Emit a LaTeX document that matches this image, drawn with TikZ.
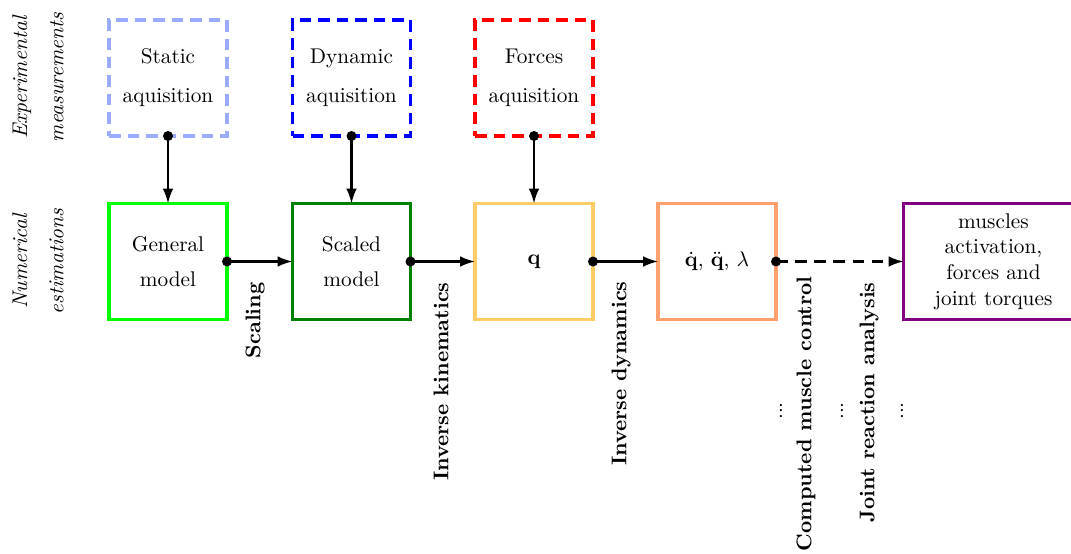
\documentclass[tikz,border=0pt]{standalone}
\usetikzlibrary{arrows.meta}
\newlength\pxu
\setlength\pxu{0.47pt}
\definecolor{staticc}{RGB}{153,170,255}
\definecolor{dync}{RGB}{0,0,255}
\definecolor{forcec}{RGB}{255,0,0}
\definecolor{genc}{RGB}{0,255,0}
\definecolor{sclc}{RGB}{0,128,0}
\definecolor{qc}{RGB}{255,204,102}
\definecolor{qdc}{RGB}{255,160,110}
\definecolor{resc}{RGB}{128,0,128}
\begin{document}
\begin{tikzpicture}[x=\pxu, y=-\pxu,
  box/.style={draw, line width=1.8pt, minimum width={118*\pxu}, minimum height={116*\pxu},
              outer sep=0pt, inner sep=0pt, align=center},
  meas/.style={box, dash pattern=on 5.5pt off 3.2pt},
  link/.style={line width=1pt, -{Latex[length=7pt,width=5pt]}},
  dlink/.style={link, dash pattern=on 5.5pt off 3.5pt},
  knot/.style={fill=black},
  proc/.style={rotate=90, anchor=east, inner sep=0pt, font=\bfseries},
  more/.style={rotate=90, inner sep=0pt},
  side/.style={rotate=90, align=center, font=\itshape, inner sep=0pt}]
\useasboundingbox (0,0) rectangle (1071,553);
\clip (0,0) rectangle (1071,553);

% row labels
\node[side] (lexp) at (38,77.5) {Experimental\\[5pt]measurements};
\node[side] (lnum) at (38,261.5) {Numerical\\[5pt]estimations};

% experimental measurements
\node[meas, draw=staticc] (stat) at (168,78) {Static\\[6.3pt]aquisition};
\node[meas, draw=dync]    (dyn)  at (351.5,78) {Dynamic\\[6.3pt]aquisition};
\node[meas, draw=forcec]  (forc) at (534,78) {Forces\\[6.3pt]aquisition};

% numerical estimations
\node[box, draw=genc] (gen) at (168,261.5) {General\\[4.8pt]model};
\node[box, draw=sclc] (scl) at (351.5,261.5) {Scaled\\[4.8pt]model};
\node[box, draw=qc]   (q)   at (534,261.5) {$\mathbf{q}$};
\node[box, draw=qdc]  (qd)  at (717,261.5) {$\dot{\mathbf{q}}$, $\ddot{\mathbf{q}}$, $\lambda$};
\node[box, draw=resc, minimum width={180*\pxu}] (res) at (993.5,261.5)
  {muscles\\activation,\\forces and\\joint torques};

% measurements feeding the models
\draw[link] (stat.south) -- (gen.north);
\draw[link] (dyn.south) -- (scl.north);
\draw[link] (forc.south) -- (q.north);
\fill[knot] (stat.south) circle (5);
\fill[knot] (dyn.south) circle (5);
\fill[knot] (forc.south) circle (5);

% processing chain
\draw[link] (gen.east) -- (scl.west);
\draw[link] (scl.east) -- (q.west);
\draw[link] (q.east) -- (qd.west);
\draw[dlink] (qd.east) -- (res.west);
\fill[knot] (gen.east) circle (5);
\fill[knot] (scl.east) circle (5);
\fill[knot] (q.east) circle (5);
\fill[knot] (qd.east) circle (5);

% step names
\node[proc] (tscal) at (255,282) {Scaling};
\node[proc] (tik)   at (441,282) {Inverse kinematics};
\node[proc] (tid)   at (621,281) {Inverse dynamics};
\node[proc] (tcmc)  at (806,276) {Computed muscle control};
\node[proc] (tjra)  at (869,282) {Joint reaction analysis};
\node[more] (m1) at (781,411) {...};
\node[more] (m2) at (842,411) {...};
\node[more] (m3) at (902,411) {...};
\end{tikzpicture}
\end{document}
